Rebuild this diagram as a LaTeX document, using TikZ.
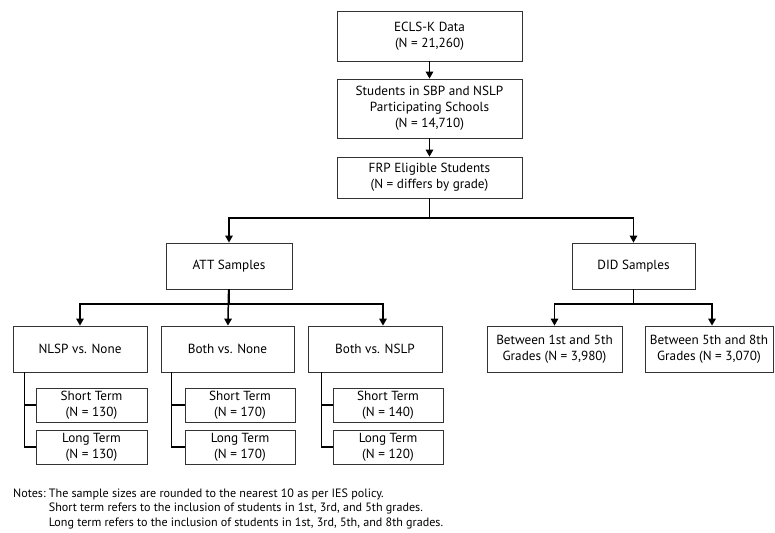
\documentclass[tikz,border=0pt]{standalone}
\usepackage{fontspec}
\setmainfont{PT Sans}
\usetikzlibrary{arrows.meta}

\begin{document}
\begin{tikzpicture}[x=1pt, y=-1pt,
    box/.style={draw=black!80, line width=0.8pt, align=center, inner sep=0pt, font=\fontsize{13.2}{16}\selectfont},
    arr/.style={line width=1.5pt, -{Triangle[length=7pt, width=7.5pt]}},
    brk/.style={line width=1.5pt}]
    \useasboundingbox (0,0) rectangle (775,532);
    \node[box, minimum width=185, minimum height=50] (ecls) at (429.5,36) {ECLS-K Data\\(N = 21,260)};
    \node[box, minimum width=185, minimum height=59] (sbp) at (429.5,108.5) {Students in SBP and NSLP\\Participating Schools\\(N = 14,710)};
    \node[box, minimum width=185, minimum height=41] (frp) at (429.5,177.5) {FRP Eligible Students\\(N = differs by grade)};
    \node[box, minimum width=126, minimum height=46] (att) at (229,266) {ATT Samples};
    \node[box, minimum width=123, minimum height=46] (did) at (633.5,266) {DID Samples};
    \node[box, minimum width=134, minimum height=46] (nlsp) at (80,349) {NLSP vs. None};
    \node[box, minimum width=133, minimum height=46] (bnone) at (227.5,349) {Both vs. None};
    \node[box, minimum width=134, minimum height=46] (bnslp) at (375,349) {Both vs. NSLP};
    \node[box, minimum width=111, minimum height=34] (st1) at (91.5,405) {Short Term\\(N = 130)};
    \node[box, minimum width=111, minimum height=34] (lt1) at (91.5,447) {Long Term\\(N = 130)};
    \node[box, minimum width=110, minimum height=34] (st2) at (240,405) {Short Term\\(N = 170)};
    \node[box, minimum width=110, minimum height=34] (lt2) at (240,447) {Long Term\\(N = 170)};
    \node[box, minimum width=110, minimum height=34] (st3) at (388,405) {Short Term\\(N = 140)};
    \node[box, minimum width=110, minimum height=34] (lt3) at (388,447) {Long Term\\(N = 120)};
    \node[box, minimum width=135, minimum height=46] (g15) at (554.5,349) {Between 1st and 5th\\Grades (N = 3,980)};
    \node[box, minimum width=128, minimum height=46] (g58) at (709,349) {Between 5th and 8th\\Grades (N = 3,070)};
    \node[anchor=base west, inner sep=0pt, font=\fontsize{12.1}{14.5}\selectfont] (notes) at (13,497)
        {\begin{tabular}[t]{@{}l@{\ }l@{}}Notes: & The sample sizes are rounded to the nearest 10 as per IES policy.\\
        & Short term refers to the inclusion of students in 1st, 3rd, and 5th grades.\\
        & Long term refers to the inclusion of students in 1st, 3rd, 5th, and 8th grades.\end{tabular}};
    \draw[arr] (ecls) -- (sbp);
    \draw[arr] (sbp) -- (frp);
    \draw[arr] (frp) -- (frp |- 0,218) -| (att);
    \draw[arr] (frp) -- (frp |- 0,218) -| (did);
    \draw[arr] (att) -- (att |- 0,304) -| (nlsp);
    \draw[arr] (att) -- (bnone);
    \draw[arr] (att) -- (att |- 0,304) -| ([xshift=8pt]bnslp.north);
    \draw[arr] (did) -- (did |- 0,304) -| (g15);
    \draw[arr] (did) -- (did |- 0,304) -| ([xshift=3pt]g58.north);
    \draw[brk] ([xshift=12pt]nlsp.south west) |- (st1);
    \draw[brk] ([xshift=12pt]nlsp.south west) |- (lt1);
    \draw[brk] ([xshift=11pt]bnone.south west) |- (st2);
    \draw[brk] ([xshift=11pt]bnone.south west) |- (lt2);
    \draw[brk] ([xshift=14pt]bnslp.south west) |- (st3);
    \draw[brk] ([xshift=14pt]bnslp.south west) |- (lt3);
\end{tikzpicture}
\end{document}
